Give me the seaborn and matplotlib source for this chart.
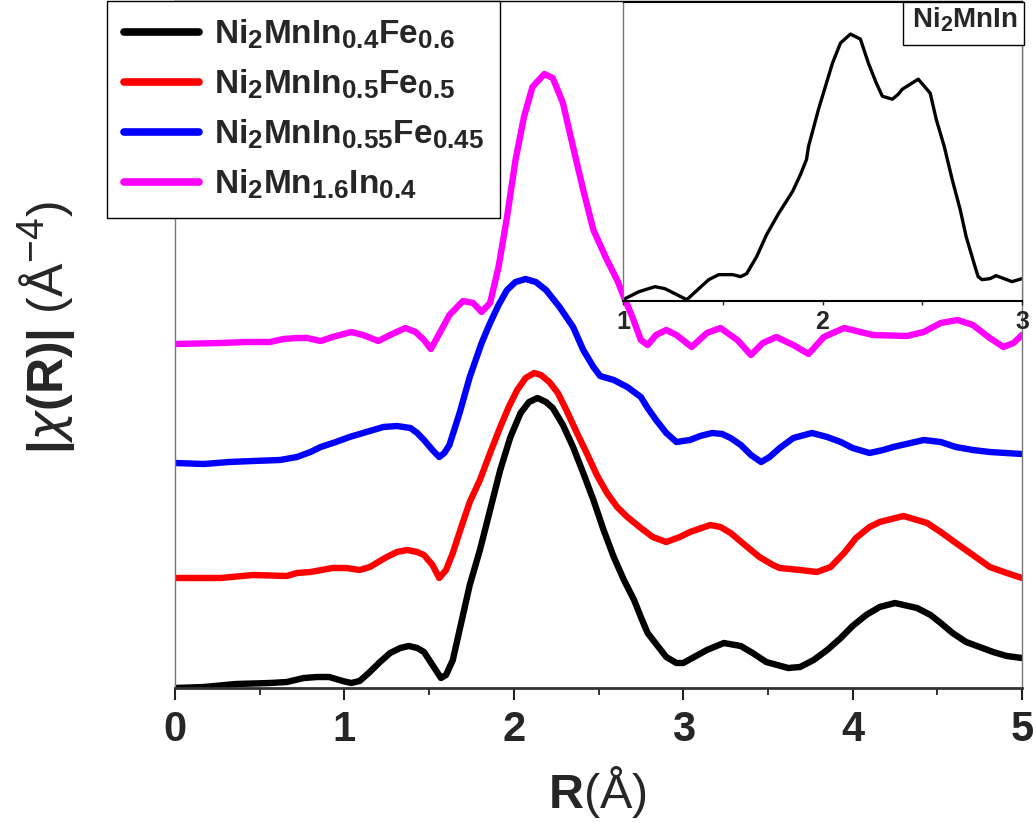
import numpy as np
import pandas as pd
import matplotlib
matplotlib.use('Agg')
import matplotlib.pyplot as plt
import seaborn as sns
from matplotlib import font_manager
from matplotlib.patches import Rectangle
from matplotlib.ticker import MultipleLocator

try:
    import matplotlib._mathtext as _mt
    _mt.SHRINK_FACTOR = 0.78
except Exception:
    pass

# ---------------- data ----------------
r_black = [0.00, 0.17, 0.36, 0.56, 0.66, 0.76, 0.84, 0.91, 0.99, 1.04, 1.09, 1.15, 1.21, 1.27, 1.33,
           1.38, 1.43, 1.47, 1.52, 1.57, 1.60, 1.64, 1.68, 1.74, 1.80, 1.86, 1.92, 1.98, 2.04, 2.09,
           2.14, 2.19, 2.23, 2.29, 2.35, 2.41, 2.47, 2.53, 2.59, 2.65, 2.71, 2.75, 2.79, 2.90, 2.96,
           3.00, 3.14, 3.24, 3.34, 3.41, 3.49, 3.62, 3.69, 3.77, 3.85, 3.93, 4.00, 4.08, 4.16, 4.25,
           4.38, 4.46, 4.52, 4.59, 4.67, 4.75, 4.83, 4.91, 5.00]
y_black = [0.00, 0.01, 0.04, 0.05, 0.06, 0.10, 0.11, 0.11, 0.07, 0.05, 0.07, 0.16, 0.26, 0.35, 0.40,
           0.42, 0.40, 0.36, 0.23, 0.10, 0.13, 0.28, 0.58, 1.03, 1.38, 1.78, 2.18, 2.51, 2.75, 2.86,
           2.90, 2.86, 2.80, 2.63, 2.41, 2.15, 1.88, 1.58, 1.31, 1.08, 0.88, 0.71, 0.55, 0.31, 0.25,
           0.25, 0.38, 0.45, 0.42, 0.35, 0.26, 0.20, 0.21, 0.28, 0.38, 0.50, 0.62, 0.73, 0.81, 0.85,
           0.80, 0.73, 0.65, 0.55, 0.46, 0.41, 0.36, 0.32, 0.30]

r_red = [0.00, 0.27, 0.46, 0.66, 0.72, 0.80, 0.93, 1.01, 1.09, 1.15, 1.25, 1.31, 1.37, 1.43, 1.47,
         1.52, 1.56, 1.60, 1.64, 1.69, 1.74, 1.80, 1.86, 1.92, 1.97, 2.02, 2.07, 2.12, 2.16, 2.21,
         2.26, 2.31, 2.37, 2.43, 2.49, 2.55, 2.61, 2.67, 2.75, 2.82, 2.90, 2.98, 3.04, 3.16, 3.22,
         3.28, 3.35, 3.45, 3.53, 3.57, 3.69, 3.79, 3.87, 3.95, 4.02, 4.10, 4.16, 4.30, 4.44, 4.52,
         4.61, 4.71, 4.81, 4.91, 5.00]
y_red = [1.10, 1.10, 1.13, 1.12, 1.15, 1.16, 1.20, 1.20, 1.18, 1.21, 1.31, 1.36, 1.38, 1.36, 1.33,
         1.23, 1.10, 1.18, 1.35, 1.61, 1.86, 2.08, 2.35, 2.61, 2.81, 2.98, 3.10, 3.15, 3.13, 3.06,
         2.95, 2.78, 2.56, 2.35, 2.13, 1.95, 1.81, 1.71, 1.60, 1.51, 1.46, 1.51, 1.56, 1.63, 1.61,
         1.55, 1.45, 1.31, 1.23, 1.20, 1.18, 1.16, 1.21, 1.35, 1.50, 1.61, 1.66, 1.72, 1.65, 1.56,
         1.45, 1.33, 1.21, 1.15, 1.10]

r_blue = [0.00, 0.17, 0.32, 0.46, 0.62, 0.72, 0.80, 0.86, 0.95, 1.03, 1.11, 1.15, 1.23, 1.31, 1.39,
          1.43, 1.47, 1.52, 1.56, 1.59, 1.62, 1.68, 1.74, 1.81, 1.86, 1.91, 1.96, 2.01, 2.07, 2.13,
          2.19, 2.27, 2.35, 2.41, 2.47, 2.51, 2.59, 2.67, 2.75, 2.79, 2.84, 2.90, 2.96, 3.04, 3.10,
          3.17, 3.23, 3.28, 3.34, 3.40, 3.46, 3.51, 3.57, 3.65, 3.76, 3.85, 3.93, 4.00, 4.10, 4.18,
          4.24, 4.42, 4.52, 4.61, 4.71, 4.81, 5.00]
y_blue = [2.25, 2.24, 2.26, 2.27, 2.28, 2.31, 2.36, 2.41, 2.46, 2.51, 2.55, 2.57, 2.61, 2.62, 2.60,
          2.55, 2.48, 2.38, 2.31, 2.35, 2.43, 2.75, 3.11, 3.45, 3.65, 3.83, 3.98, 4.06, 4.09, 4.06,
          3.98, 3.81, 3.61, 3.38, 3.21, 3.12, 3.08, 3.01, 2.91, 2.80, 2.68, 2.55, 2.46, 2.48, 2.52,
          2.55, 2.54, 2.50, 2.43, 2.33, 2.26, 2.31, 2.40, 2.50, 2.55, 2.51, 2.46, 2.40, 2.35, 2.38,
          2.41, 2.48, 2.46, 2.41, 2.38, 2.36, 2.34]

r_mag = [0.00, 0.27, 0.42, 0.56, 0.64, 0.72, 0.78, 0.86, 0.93, 1.04, 1.11, 1.20, 1.27, 1.36, 1.42,
         1.47, 1.51, 1.54, 1.62, 1.70, 1.76, 1.81, 1.86, 1.91, 1.96, 2.01, 2.06, 2.11, 2.18, 2.23,
         2.29, 2.35, 2.41, 2.47, 2.55, 2.61, 2.65, 2.70, 2.75, 2.79, 2.84, 2.90, 2.96, 3.05, 3.14,
         3.22, 3.32, 3.40, 3.47, 3.55, 3.65, 3.74, 3.83, 3.95, 4.12, 4.32, 4.42, 4.52, 4.62, 4.71,
         4.81, 4.89, 4.95, 5.00]
y_mag = [3.44, 3.45, 3.46, 3.46, 3.49, 3.50, 3.50, 3.47, 3.51, 3.56, 3.53, 3.47, 3.53, 3.60, 3.56,
         3.48, 3.39, 3.48, 3.73, 3.87, 3.85, 3.76, 3.85, 4.21, 4.71, 5.28, 5.71, 6.01, 6.14, 6.10,
         5.85, 5.41, 4.98, 4.58, 4.28, 4.08, 3.91, 3.71, 3.48, 3.43, 3.53, 3.58, 3.53, 3.41, 3.55,
         3.60, 3.48, 3.33, 3.45, 3.51, 3.43, 3.34, 3.51, 3.60, 3.53, 3.52, 3.56, 3.65, 3.68, 3.63,
         3.50, 3.41, 3.45, 3.53]

r_inset = [1.00, 1.08, 1.16, 1.21, 1.26, 1.32, 1.38, 1.43, 1.48, 1.55, 1.59, 1.62, 1.67, 1.72, 1.78,
           1.85, 1.89, 1.92, 1.93, 1.98, 2.05, 2.09, 2.14, 2.19, 2.23, 2.27, 2.30, 2.35, 2.38, 2.40,
           2.48, 2.51, 2.54, 2.57, 2.61, 2.65, 2.69, 2.72, 2.76, 2.78, 2.80, 2.84, 2.87, 2.91, 2.95,
           3.00]
y_inset = [0.01, 0.09, 0.14, 0.12, 0.07, 0.01, 0.12, 0.21, 0.26, 0.26, 0.24, 0.27, 0.44, 0.66, 0.87,
           1.09, 1.26, 1.41, 1.54, 1.91, 2.37, 2.57, 2.66, 2.61, 2.37, 2.17, 2.04, 2.01, 2.06, 2.11,
           2.21, 2.14, 2.07, 1.81, 1.54, 1.21, 0.91, 0.64, 0.37, 0.24, 0.21, 0.22, 0.25, 0.22, 0.19,
           0.22]

series_labels = [r'$\mathbf{Ni_{2}MnIn_{0.4}Fe_{0.6}}$',
                 r'$\mathbf{Ni_{2}MnIn_{0.5}Fe_{0.5}}$',
                 r'$\mathbf{Ni_{2}MnIn_{0.55}Fe_{0.45}}$',
                 r'$\mathbf{Ni_{2}Mn_{1.6}In_{0.4}}$']
series_colors = ['#000000', '#ff0000', '#0000ff', '#ff00ff']
xticks_main = [0, 1, 2, 3, 4, 5]
xtick_labels_main = ['0', '1', '2', '3', '4', '5']
xticks_inset = [1, 2, 3]
xtick_labels_inset = ['1', '2', '3']
inset_title = r'$\mathbf{Ni_{2}MnIn}$'
x_label = r'$\mathbf{R}$(Å)'
y_label = r'$\mathbf{|}\chi\mathbf{(R)|}$ (Å$^{-4}$)'

# ---------------- style ----------------
sns.set_style('ticks')
names = {f.name for f in font_manager.fontManager.ttflist}
NARROW = 'Liberation Sans Narrow' if 'Liberation Sans Narrow' in names else 'Liberation Sans'
plt.rcParams['font.family'] = ['Liberation Sans', 'DejaVu Sans']
plt.rcParams['mathtext.fontset'] = 'custom'
plt.rcParams['mathtext.rm'] = 'Liberation Sans'
plt.rcParams['mathtext.bf'] = 'Liberation Sans:bold'
plt.rcParams['mathtext.it'] = 'DejaVu Sans:italic'

W, H = 1033, 823
fig = plt.figure(figsize=(W / 100, H / 100), dpi=100)

ax = fig.add_axes([175 / W, 1 - 688 / H, (1022 - 175) / W, 687 / H])
all_x = [r_black, r_red, r_blue, r_mag]
all_y = [y_black, y_red, y_blue, y_mag]
for xs, ys, lab, col in zip(all_x, all_y, series_labels, series_colors):
    df = pd.DataFrame({'R': xs, 'chi': ys})
    sns.lineplot(data=df, x='R', y='chi', ax=ax, color=col, lw=4.6, label=lab,
                 estimator=None, solid_capstyle='round', solid_joinstyle='round')

ax.set_xlim(0, 5)
ax.set_ylim(0, 6.87)
ax.set_yticks([])
ax.set_ylabel('')
ax.set_xlabel('')
ax.set_xticks(xticks_main)
ax.set_xticklabels(xtick_labels_main, fontfamily=NARROW, fontweight='bold', fontsize=30)
ax.xaxis.set_minor_locator(MultipleLocator(0.5))
ax.tick_params(axis='x', which='major', direction='out', length=8.6, width=1.5, pad=7, color='#222222')
ax.tick_params(axis='x', which='minor', direction='out', length=5, width=1.3, color='#222222')
for s in ['left', 'right']:
    ax.spines[s].set_color('#777777')
    ax.spines[s].set_linewidth(1.0)
ax.spines['top'].set_color('black')
ax.spines['top'].set_linewidth(1.0)
ax.spines['bottom'].set_color('#333333')
ax.spines['bottom'].set_linewidth(2.0)

leg = ax.legend(loc='upper left', bbox_to_anchor=(107 / W, 1 - 1 / H), bbox_transform=fig.transFigure,
                frameon=True, fancybox=False, edgecolor='black', framealpha=1, fontsize=24,
                handlelength=2.25, handletextpad=0.45, labelspacing=0.5, borderpad=0.5,
                borderaxespad=0)
leg.get_frame().set_linewidth(1.0)
for lh in leg.get_lines():
    lh.set_linewidth(5.5)
    lh.set_solid_capstyle('round')

fig.text(597 / W, 1 - 808 / H, x_label, ha='center', va='baseline', fontsize=35, fontfamily=NARROW)
fig.text(47 / W, 1 - 328 / H, y_label, rotation=90, ha='center', va='center', fontsize=36)

# ---------------- inset ----------------
axin = fig.add_axes([623 / W, 1 - 300.7 / H, (1022 - 623) / W, (300.7 - 2) / H])
dfi = pd.DataFrame({'R': r_inset, 'chi': y_inset})
sns.lineplot(data=dfi, x='R', y='chi', ax=axin, color='black', lw=2.4, estimator=None,
             solid_joinstyle='round')
axin.set_xlim(1, 3)
axin.set_ylim(0, 2.98)
axin.set_yticks([])
axin.set_xlabel('')
axin.set_ylabel('')
axin.set_xticks(xticks_inset)
axin.set_xticklabels(xtick_labels_inset, fontweight='bold', fontsize=18)
axin.xaxis.set_minor_locator(MultipleLocator(0.5))
axin.tick_params(axis='x', which='both', direction='out', length=3, width=1, pad=4)
for s in ['left', 'right']:
    axin.spines[s].set_color('#777777')
    axin.spines[s].set_linewidth(1.0)
axin.spines['top'].set_color('black')
axin.spines['bottom'].set_color('black')
axin.spines['bottom'].set_linewidth(1.5)

fig.add_artist(Rectangle((903 / W, 1 - 45 / H), (1024 - 903) / W, 43 / H, transform=fig.transFigure,
                         facecolor='white', edgecolor='black', lw=1.0, zorder=10))
fig.text(1018 / W, 1 - 28 / H, inset_title, ha='right', va='baseline', fontsize=20, zorder=11)

fig.savefig('out.png', dpi=100)
